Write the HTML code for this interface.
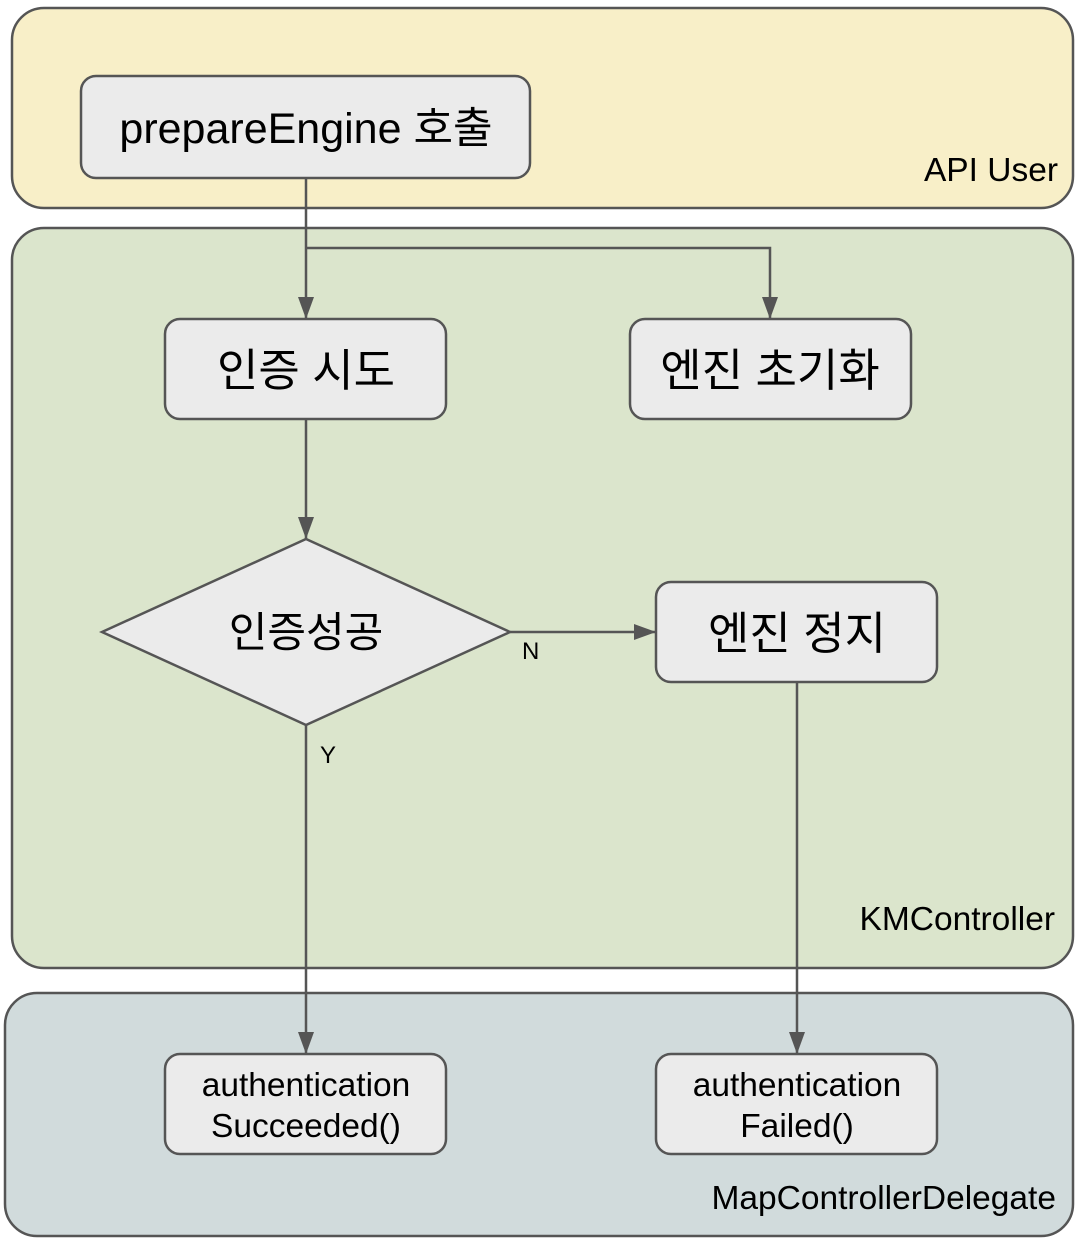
<!DOCTYPE html>
<html><head><meta charset="utf-8"><style>
html,body{margin:0;padding:0;background:#fff}
svg{display:block}
text{font-family:"Liberation Sans","Noto Sans CJK KR",sans-serif;fill:#000}
</style></head><body>
<svg width="1084" height="1246" viewBox="0 0 1084 1246" xmlns="http://www.w3.org/2000/svg">
<defs>
<marker id="b" markerWidth="22" markerHeight="16" refX="22" refY="8" orient="auto" markerUnits="userSpaceOnUse"><path d="M0,0 L22,8 L0,16 z" fill="#555"/></marker></defs>
<g stroke="#555" stroke-width="2.5">
<rect x="12" y="8" width="1061" height="200" rx="32" fill="#f8efc8"/>
<rect x="12" y="228" width="1061" height="740" rx="32" fill="#dbe5cc"/>
<rect x="5" y="993" width="1068" height="243" rx="32" fill="#d1dbdc"/>
</g>
<g font-size="33.5">
<text x="1058" y="181" text-anchor="end">API User</text>
<text x="1055" y="930" text-anchor="end">KMController</text>
<text x="1056" y="1209" text-anchor="end">MapControllerDelegate</text>
</g>
<g stroke="#555" stroke-width="2.5" fill="none">
<path d="M306,178 V319" marker-end="url(#b)"/>
<path d="M306,248 H770 V319" marker-end="url(#b)"/>
<path d="M306,419 V539" marker-end="url(#b)"/>
<path d="M510,632 H656" marker-end="url(#b)"/>
<path d="M306,725 V1054" marker-end="url(#b)"/>
<path d="M797,682 V1054" marker-end="url(#b)"/>
</g>
<g stroke="#555" stroke-width="2.5" fill="#ebebeb">
<rect x="81" y="76" width="449" height="102" rx="15"/>
<rect x="165" y="319" width="281" height="100" rx="15"/>
<rect x="630" y="319" width="281" height="100" rx="15"/>
<rect x="656" y="582" width="281" height="100" rx="15"/>
<rect x="165" y="1054" width="281" height="100" rx="15"/>
<rect x="656" y="1054" width="281" height="100" rx="15"/>
<path d="M102,632 L306,539 L510,632 L306,725 z"/>
</g>
<g text-anchor="middle">
<text x="306" y="143" font-size="43">prepareEngine 호출</text>
<text x="306" y="386" font-size="45">인증 시도</text>
<text x="770" y="386" font-size="45">엔진 초기화</text>
<text x="797" y="649" font-size="45">엔진 정지</text>
<text x="306" y="647" font-size="42">인증성공</text>
<text x="306" y="1096" font-size="33.5">authentication</text>
<text x="306" y="1137" font-size="33.5">Succeeded()</text>
<text x="797" y="1096" font-size="33.5">authentication</text>
<text x="797" y="1137" font-size="33.5">Failed()</text>
</g>
<text x="522" y="659" font-size="24">N</text>
<text x="320" y="763" font-size="24">Y</text>
</svg>
</body></html>
